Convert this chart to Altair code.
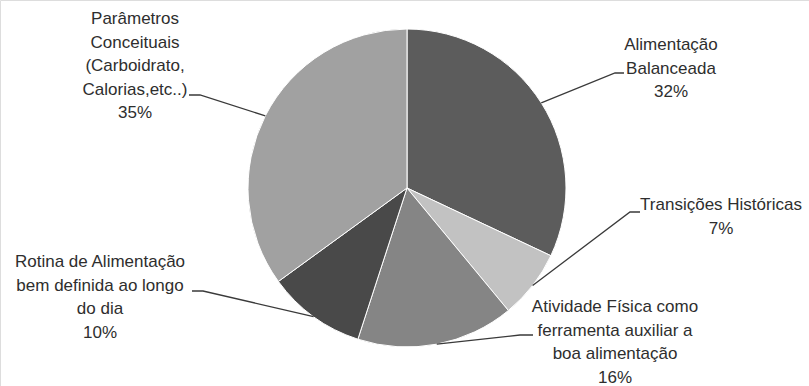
import math
import altair as alt
import pandas as pd

# Slice data
categories = [
    "Alimentação Balanceada",
    "Transições Históricas",
    "Atividade Física como ferramenta auxiliar a boa alimentação",
    "Rotina de Alimentação bem definida ao longo do dia",
    "Parâmetros Conceituais (Carboidrato, Calorias,etc..)",
]
percents = [32, 7, 16, 10, 35]
label_lines = [
    ["Alimentação", "Balanceada"],
    ["Transições Históricas"],
    ["Atividade Física como", "ferramenta auxiliar a", "boa alimentação"],
    ["Rotina de Alimentação", "bem definida ao longo", "do dia"],
    ["Parâmetros", "Conceituais", "(Carboidrato,", "Calorias,etc..)"],
]
colors = ["#5c5c5c", "#c2c2c2", "#858585", "#494949", "#a1a1a1"]

# Layout
W, H = 809, 386
CX, CY, R = 407, 188, 159
LINE_H = 23.5
FONT = "Liberation Sans"
FONT_SIZE = 17
# label block: centre x, y of first line; leader: text-side point, elbow point
label_layout = [
    dict(x=671, y=45, lead=(624, 73), elbow=(615, 73)),
    dict(x=721, y=205, lead=(640, 212), elbow=(630, 212)),
    dict(x=615, y=307, lead=(533, 335), elbow=(520, 335)),
    dict(x=100, y=262, lead=(192, 291), elbow=(203, 291)),
    dict(x=135, y=19, lead=(189, 95), elbow=(200, 95)),
]

pie_df = pd.DataFrame({"categoria": categories, "pct": percents, "ordem": range(len(categories))})

# text rows, one per line
text_rows = []
for cat, pct, lines, lay in zip(categories, percents, label_lines, label_layout):
    for i, ln in enumerate(lines + [f"{pct}%"]):
        text_rows.append({"categoria": cat, "texto": ln, "px": lay["x"], "py": lay["y"] + i * LINE_H})
text_df = pd.DataFrame(text_rows)

# leader lines end on the slice edge at the slice's mid angle
lead_rows = []
cum = 0
total = sum(percents)
for cat, pct, lay in zip(categories, percents, label_layout):
    mid = (cum + pct / 2) / total * 2 * math.pi
    cum += pct
    ex, ey = CX + R * math.sin(mid), CY - R * math.cos(mid)
    for step, (px, py) in enumerate([lay["lead"], lay["elbow"], (ex, ey)]):
        lead_rows.append({"categoria": cat, "step": step, "px": px, "py": py})
lead_df = pd.DataFrame(lead_rows)

pie = alt.Chart(pie_df).mark_arc(radius=R, stroke="#ffffff", strokeWidth=1).encode(
    theta=alt.Theta("pct:Q", stack=True),
    order=alt.Order("ordem:Q"),
    color=alt.Color("categoria:N", scale=alt.Scale(domain=categories, range=colors), legend=None),
    x=alt.value(CX),
    y=alt.value(CY),
)

leaders = alt.Chart(lead_df).mark_line(color="#3a3a3a", strokeWidth=1.3).encode(
    x=alt.X("px:Q", scale=None, axis=None),
    y=alt.Y("py:Q", scale=None, axis=None),
    detail="categoria:N",
    order="step:Q",
)

labels = alt.Chart(text_df).mark_text(
    font=FONT, fontSize=FONT_SIZE, color="#2e2e2e", align="center", baseline="middle"
).encode(
    x=alt.X("px:Q", scale=None, axis=None),
    y=alt.Y("py:Q", scale=None, axis=None),
    text="texto:N",
)

chart = alt.layer(pie, leaders, labels).properties(
    width=W, height=H, autosize=alt.AutoSizeParams(type="none"), padding=0
).configure_view(stroke=None).configure(background="#ffffff")

chart.save("out.html", embed_options={"renderer": "svg", "actions": False})
